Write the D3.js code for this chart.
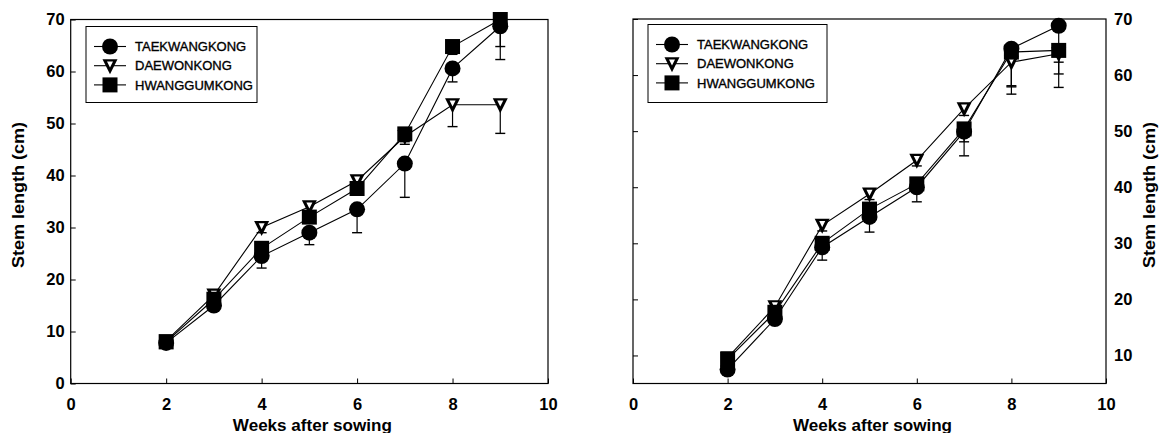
<!DOCTYPE html>
<html>
<head>
<meta charset="utf-8">
<script src="https://cdn.jsdelivr.net/npm/d3@7"></script>
<style>
  body { margin: 0; background: #fff; }
  svg { display: block; }
  text { font-family: "Liberation Sans", Arial, Helvetica, sans-serif; fill: #000; }
</style>
</head>
<body>
<svg id="chart" width="1164" height="433"></svg>
<script>
// Sampling weeks and cultivar names
const weeks = [2, 3, 4, 5, 6, 7, 8, 9];
const seriesNames = ["TAEKWANGKONG", "DAEWONKONG", "HWANGGUMKONG"];
const xTicks = [0, 2, 4, 6, 8, 10];
const leftYTicks = [0, 10, 20, 30, 40, 50, 60, 70];
const rightYTicks = [10, 20, 30, 40, 50, 60, 70];

// Panel A: stem length (cm) and lower standard error
const taekA = [7.8, 15.0, 24.5, 29.0, 33.5, 42.3, 60.6, 68.7];
const taekAErr = [0.5, 1.0, 2.3, 2.3, 4.5, 6.5, 2.6, 6.4];
const daeA = [8.2, 17.0, 30.0, 34.0, 39.0, 47.5, 53.6, 53.6];
const daeAErr = [0.5, 0.8, 1.0, 1.0, 1.2, 1.5, 4.2, 5.5];
const hwangA = [8.0, 16.2, 26.0, 32.0, 37.5, 48.0, 64.8, 70.0];
const hwangAErr = [0.5, 0.8, 1.0, 1.0, 1.0, 1.5, 1.5, 5.2];

// Panel B: stem length (cm) and lower standard error
const taekB = [7.5, 16.5, 29.3, 34.7, 40.0, 49.9, 64.7, 68.8];
const taekBErr = [0.5, 0.8, 2.3, 2.7, 2.6, 4.3, 6.8, 6.5];
const daeB = [9.6, 18.7, 33.2, 38.8, 44.8, 54.0, 62.3, 63.8];
const daeBErr = [0.5, 0.8, 1.0, 1.0, 1.0, 1.2, 5.7, 3.6];
const hwangB = [9.3, 17.7, 30.0, 36.1, 40.6, 50.4, 64.1, 64.4];
const hwangBErr = [0.5, 0.8, 1.0, 1.0, 1.0, 2.3, 6.0, 6.6];

const svg = d3.select("#chart");
const markerKinds = ["circle", "triangle", "square"];

function drawMarker(g, kind, x, y) {
  if (kind === "circle") {
    g.append("circle").attr("cx", x).attr("cy", y).attr("r", 8).attr("fill", "#000");
  } else if (kind === "square") {
    g.append("rect").attr("x", x - 7.5).attr("y", y - 7.5)
      .attr("width", 15).attr("height", 15).attr("fill", "#000");
  } else {
    g.append("path")
      .attr("d", `M${x - 7.5},${y - 6.5}L${x + 7.5},${y - 6.5}L${x},${y + 8.5}Z`)
      .attr("fill", "#000");
    g.append("path")
      .attr("d", `M${x - 3},${y - 4.3}L${x + 3},${y - 4.3}L${x},${y + 1.8}Z`)
      .attr("fill", "#fff");
  }
}

function panel(opts) {
  const x = d3.scaleLinear().domain([0, 10]).range([opts.x0, opts.x1]);
  const y = d3.scaleLinear().domain(opts.yDomain).range([opts.yBottom, opts.yTop]);
  const g = svg.append("g");

  // frame
  g.append("rect")
    .attr("x", opts.x0).attr("y", opts.yTop)
    .attr("width", opts.x1 - opts.x0).attr("height", opts.yBottom - opts.yTop)
    .attr("fill", "none").attr("stroke", "#000").attr("stroke-width", 1.2);

  // bottom axis: inward ticks
  const xAxis = d3.axisBottom(x).tickValues(xTicks).tickSize(-5)
    .tickFormat(d3.format("d"));
  const gx = g.append("g").attr("transform", `translate(0,${opts.yBottom})`).call(xAxis);
  gx.select(".domain").remove();
  gx.selectAll("line").attr("stroke", "#000");
  gx.selectAll("text").attr("y", 26).attr("dy", 0)
    .attr("font-size", 16.5).attr("font-weight", "bold")
    .attr("font-family", "Liberation Sans, Arial, sans-serif");

  // vertical axis ticks on the left border, pointing inward
  const yAxisTicks = d3.axisLeft(y).tickValues(opts.yTicks).tickSize(-5).tickFormat("");
  const gy = g.append("g").attr("transform", `translate(${opts.x0},0)`).call(yAxisTicks);
  gy.select(".domain").remove();
  gy.selectAll("line").attr("stroke", "#000");

  // tick labels
  const labelX = opts.labelSide === "left" ? opts.x0 - 6 : opts.x1 + 8;
  g.append("g").selectAll("text").data(opts.yTicks).join("text")
    .attr("x", labelX).attr("y", d => y(d))
    .attr("dy", "0.36em")
    .attr("text-anchor", opts.labelSide === "left" ? "end" : "start")
    .attr("font-size", 16.5).attr("font-weight", "bold")
    .text(d => d);

  // axis titles
  g.append("text")
    .attr("x", (opts.x0 + opts.x1) / 2 + 3).attr("y", 431)
    .attr("text-anchor", "middle").attr("font-size", 16.5).attr("font-weight", "bold")
    .attr("textLength", 159).attr("lengthAdjust", "spacingAndGlyphs")
    .text("Weeks after sowing");
  g.append("text")
    .attr("transform", `translate(${opts.titleX},195) rotate(-90)`)
    .attr("text-anchor", "middle").attr("font-size", 16.5).attr("font-weight", "bold")
    .attr("textLength", 146).attr("lengthAdjust", "spacingAndGlyphs")
    .text("Stem length (cm)");

  // series lines
  const line = d3.line().x((d, i) => x(weeks[i])).y(d => y(d));
  opts.series.forEach(s => {
    g.append("path").datum(s.values).attr("d", line)
      .attr("fill", "none").attr("stroke", "#000").attr("stroke-width", 1.1);
  });

  // error bars (lower side)
  opts.series.forEach(s => {
    s.values.forEach((v, i) => {
      const cx = x(weeks[i]);
      const yb = y(v - s.err[i]);
      g.append("line").attr("x1", cx).attr("x2", cx).attr("y1", y(v)).attr("y2", yb)
        .attr("stroke", "#000").attr("stroke-width", 1.2);
      g.append("line").attr("x1", cx - 5).attr("x2", cx + 5).attr("y1", yb).attr("y2", yb)
        .attr("stroke", "#000").attr("stroke-width", 1.4);
    });
  });

  // markers
  opts.series.forEach((s, k) => {
    s.values.forEach((v, i) => drawMarker(g, markerKinds[k], x(weeks[i]), y(v)));
  });

  // legend
  const L = opts.legend;
  g.append("rect").attr("x", L.x).attr("y", L.y).attr("width", L.w).attr("height", L.h)
    .attr("fill", "#fff").attr("stroke", "#000").attr("stroke-width", 1);
  seriesNames.forEach((name, k) => {
    const ey = L.y + 20 + k * 19.2;
    g.append("line").attr("x1", L.x + 8).attr("x2", L.x + 40).attr("y1", ey).attr("y2", ey)
      .attr("stroke", "#000").attr("stroke-width", 1.1);
    drawMarker(g, markerKinds[k], L.x + 24, ey);
    g.append("text").attr("x", L.x + 49).attr("y", ey).attr("dy", "0.36em")
      .attr("font-size", 13).attr("stroke", "#000").attr("stroke-width", 0.35)
      .text(name);
  });
}

panel({
  x0: 70.7, x1: 548, yTop: 19.5, yBottom: 383.5, yDomain: [0, 70],
  yTicks: leftYTicks, labelSide: "left", titleX: 23.5,
  legend: { x: 86, y: 26.5, w: 171, h: 76 },
  series: [
    { values: taekA, err: taekAErr },
    { values: daeA, err: daeAErr },
    { values: hwangA, err: hwangAErr }
  ]
});

panel({
  x0: 633, x1: 1106, yTop: 19, yBottom: 383.5, yDomain: [5, 70],
  yTicks: rightYTicks, labelSide: "right", titleX: 1155,
  legend: { x: 648, y: 24.5, w: 179, h: 78 },
  series: [
    { values: taekB, err: taekBErr },
    { values: daeB, err: daeBErr },
    { values: hwangB, err: hwangBErr }
  ]
});
</script>
</body>
</html>
